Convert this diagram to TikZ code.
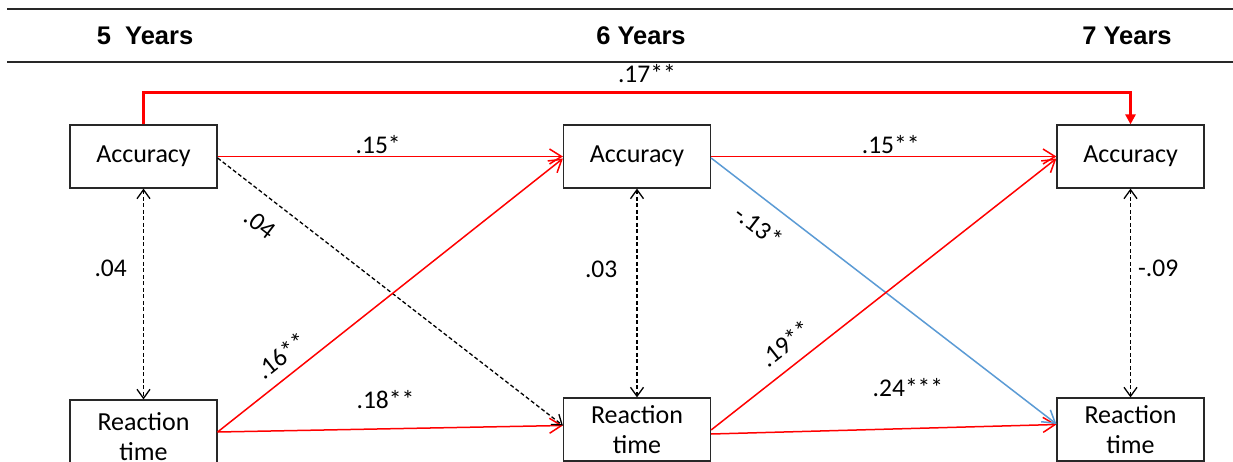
\documentclass[tikz,border=0pt]{standalone}
\usepackage{fontspec}
\setmainfont{Carlito}
\newfontfamily\headfont{Liberation Sans}
\usetikzlibrary{arrows.meta,calc}
\definecolor{pathred}{RGB}{255,0,0}
\definecolor{pathblue}{RGB}{91,155,213}
\definecolor{inkgray}{RGB}{40,40,40}

\begin{document}
\begin{tikzpicture}[x=1pt,y=-1pt,
  varbox/.style={draw=inkgray, line width=1.2pt, minimum width=147pt,
    minimum height=63pt, align=center, inner sep=0pt,
    font=\fontsize{26}{30}\selectfont},
  head/.style={anchor=base, font=\headfont\bfseries\fontsize{25.5}{30}\selectfont},
  lab/.style={font=\fontsize{25.5}{30}\selectfont, inner sep=0pt, text=black},
  rule/.style={draw=inkgray, line width=1.3pt},
  sigpath/.style={draw=pathred, line width=1.5pt,
    -{Straight Barb[length=12pt,width=15pt]}},
  crosspath/.style={draw=pathblue, line width=1.5pt,
    -{Straight Barb[length=12pt,width=15pt]}},
  nspath/.style={draw=black, line width=1.3pt, dash pattern=on 4pt off 2.5pt,
    -{Straight Barb[length=9pt,width=13pt]}},
  corrpath/.style={draw=black, line width=1.3pt, dash pattern=on 4pt off 2.5pt,
    {Straight Barb[length=9pt,width=13pt]}-{Straight Barb[length=9pt,width=13pt]}},
  longpath/.style={draw=pathred, line width=2.7pt, line join=miter,
    -{Triangle[length=10pt,width=10pt]}}
]
\useasboundingbox (0,0) rectangle (1233,462);
\fill[white] (0,0) rectangle (1233,462);
\clip (0,0) rectangle (1233,462);

% header rules and wave labels
\draw[rule] (7,9) -- (1233,9);
\draw[rule] (7,62) -- (1233,62);
\node[head] (h5) at (145,45) {5\ \ Years};
\node[head] (h6) at (641,45) {6 Years};
\node[head] (h7) at (1127,45) {7 Years};

% measured variables at each wave
\node[varbox] (acc5) at (143.5,156.5) {Accuracy};
\node[varbox] (acc6) at (637,156.5) {Accuracy};
\node[varbox] (acc7) at (1130.5,156.5) {Accuracy};
\node[varbox, minimum height=74pt] (rt5) at (143.5,437) {Reaction\\time};
\node[varbox] (rt6) at (637,429.5) {Reaction\\time};
\node[varbox] (rt7) at (1130.5,429.5) {Reaction\\time};

% long-term stability path across two years
\coordinate (tl) at ($(acc5.north)+(0,-32)$);
\coordinate (tr) at (tl -| acc7.north);
\draw[longpath] (acc5.north) -- (tl) -- node[lab, above=8pt, pos=0.51]{.17**} (tr) -- (acc7.north);

% autoregressive paths
\draw[sigpath] (acc5.east) -- node[lab, above=2pt, pos=0.465]{.15*} (acc6.west);
\draw[sigpath] (acc6.east) -- node[lab, above=2pt, pos=0.52]{.15**} (acc7.west);
\draw[sigpath] ($(rt5.east)+(0,-5)$) -- node[lab, above=19pt, pos=0.486]{.18**} ($(rt6.west)+(0,-4)$);
\draw[sigpath] ($(rt6.east)+(0,4.5)$) -- node[lab, above=31pt, pos=0.57]{.24***} ($(rt7.west)+(0,-5)$);

% cross-lagged paths
\draw[nspath] ($(acc5.east)+(0,1.5)$) -- node[lab, sloped, below, inner sep=17pt, pos=0.169]{.04} ($(rt6.west)+(0,-4)$);
\draw[sigpath] ($(rt5.east)+(0,-5)$) -- node[lab, sloped, above, inner sep=10pt, pos=0.221]{.16**} ($(acc6.west)+(0,2)$);
\draw[crosspath] ($(acc6.east)+(0,1.5)$) -- node[lab, sloped, below, inner sep=15pt, pos=0.182]{-.13*} ($(rt7.west)+(0,-5.5)$);
\draw[sigpath] ($(rt6.east)+(0,0.5)$) -- node[lab, sloped, above, inner sep=12pt, pos=0.255]{.19**} ($(acc7.west)+(0,2)$);

% within-wave correlations
\draw[corrpath] (acc5.south) -- node[lab, left=16pt, pos=0.377]{.04} (rt5.north);
\draw[corrpath] (acc6.south) -- node[lab, left=19pt, pos=0.386]{.03} (rt6.north);
\draw[corrpath] (acc7.south) -- node[lab, right=7pt, pos=0.38]{-.09} (rt7.north);
\end{tikzpicture}
\end{document}
